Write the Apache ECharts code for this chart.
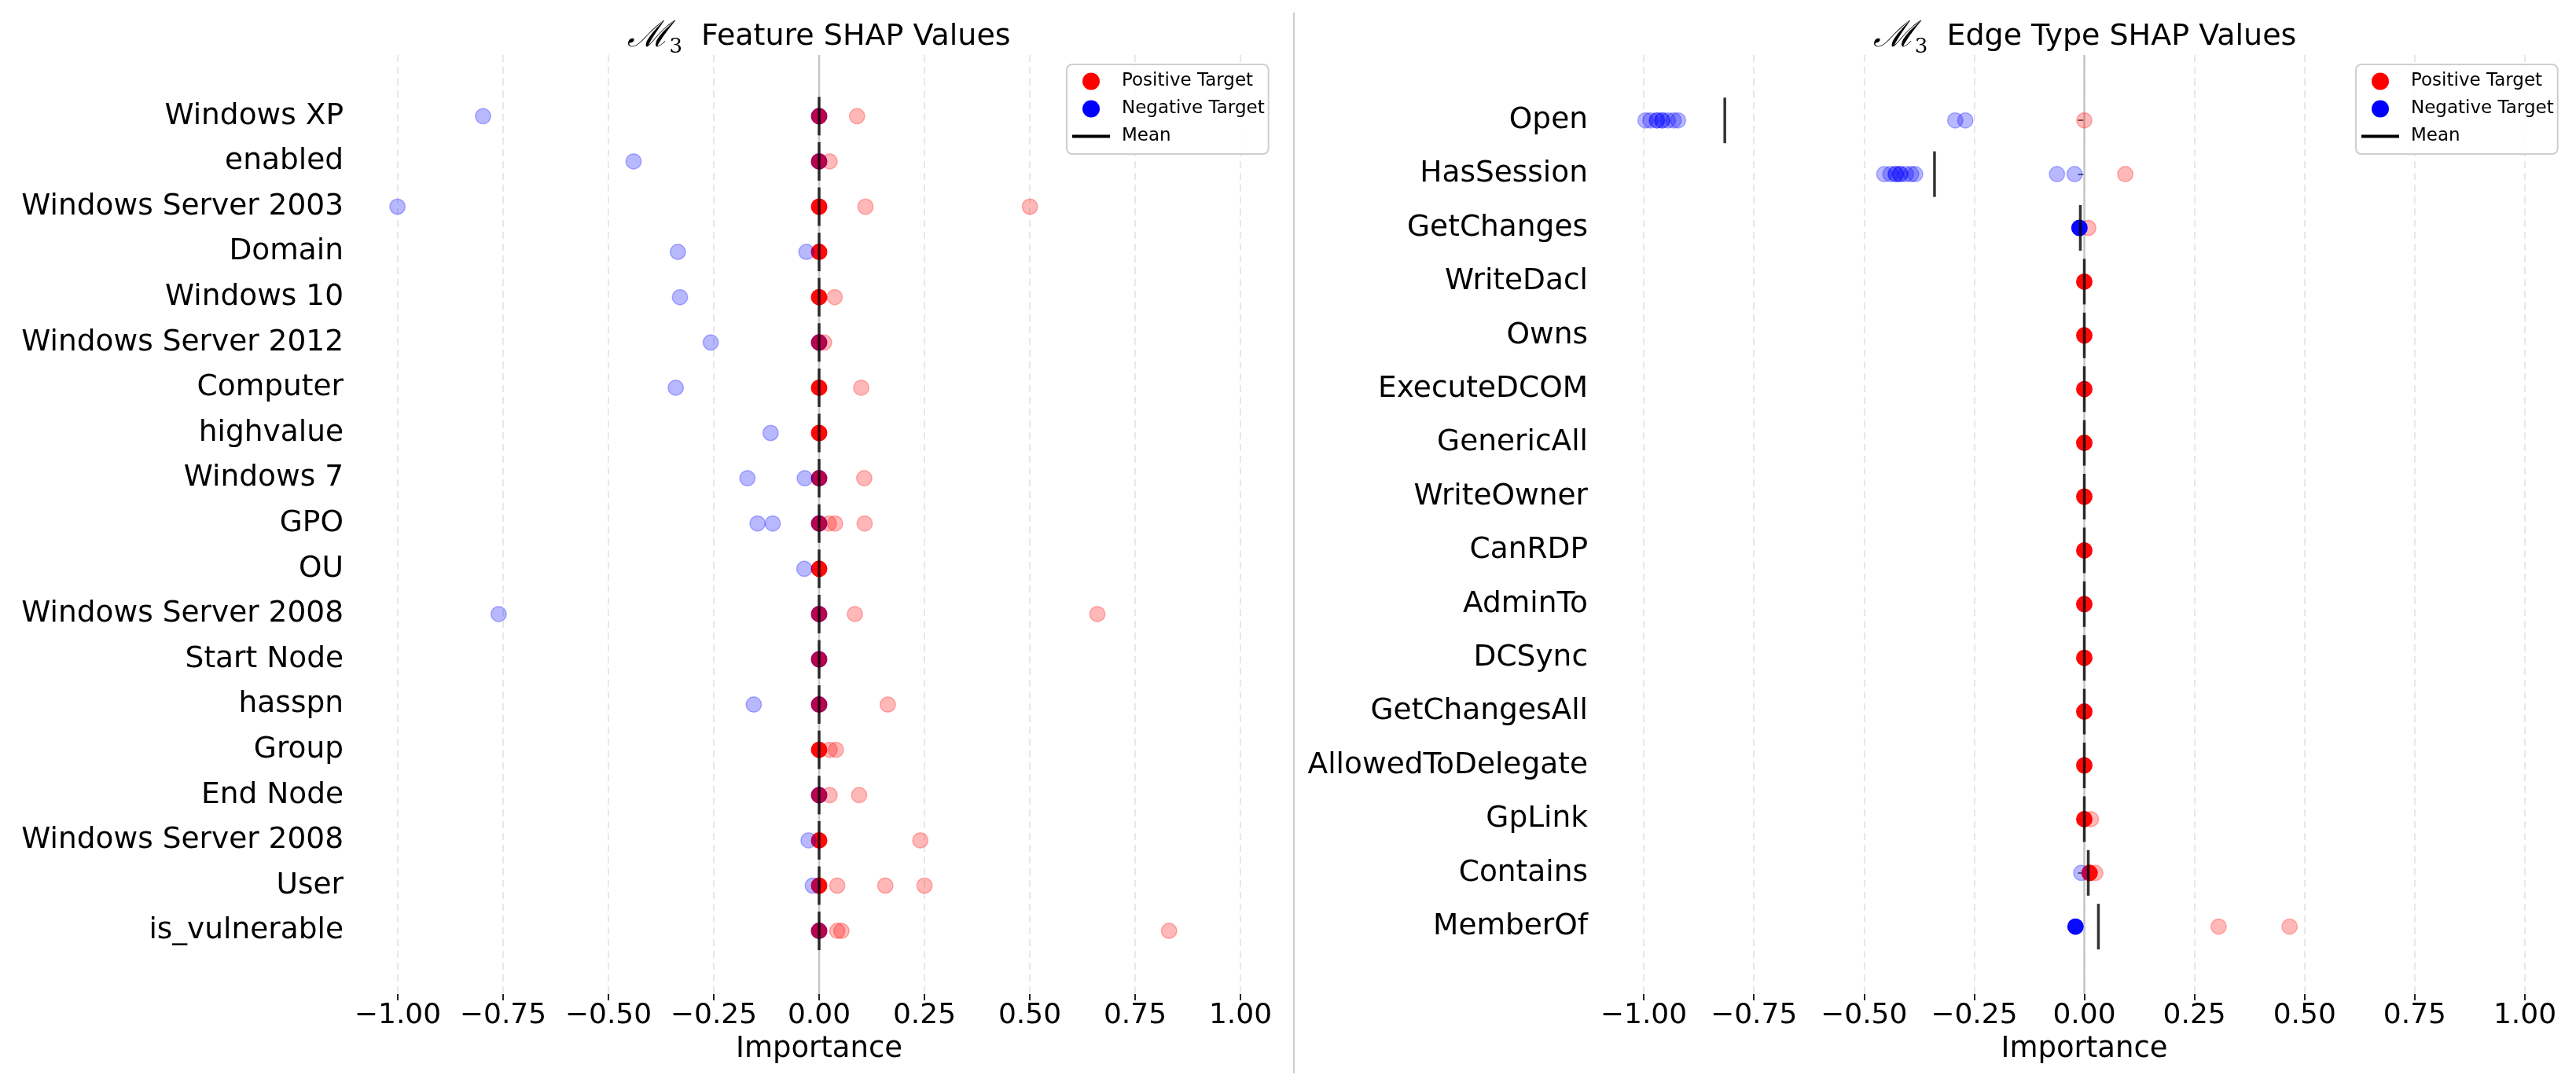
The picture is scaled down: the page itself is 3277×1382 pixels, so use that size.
<!doctype html>
<html>
<head>
<meta charset="utf-8">
<title>M3 SHAP values</title>
<script src="https://cdn.jsdelivr.net/npm/echarts@6/dist/echarts.min.js"></script>
<style>
html, body { margin: 0; padding: 0; background: #fff; }
#main { width: 3277px; height: 1382px; }
</style>
</head>
<body>
<div id="main"></div>
<script>
// categories, top to bottom
var featureNames = ['Windows XP', 'enabled', 'Windows Server 2003', 'Domain', 'Windows 10',
    'Windows Server 2012', 'Computer', 'highvalue', 'Windows 7', 'GPO', 'OU',
    'Windows Server 2008', 'Start Node', 'hasspn', 'Group', 'End Node',
    'Windows Server 2008', 'User', 'is_vulnerable'];
var edgeNames = ['Open', 'HasSession', 'GetChanges', 'WriteDacl', 'Owns', 'ExecuteDCOM',
    'GenericAll', 'WriteOwner', 'CanRDP', 'AdminTo', 'DCSync', 'GetChangesAll',
    'AllowedToDelegate', 'GpLink', 'Contains', 'MemberOf'];

// points: [row, shap value, how many points sit on top of each other]
var featurePos = [
    [0, 0, 10], [0, 0.09, 1],
    [1, 0, 10], [1, 0.025, 1],
    [2, 0, 10], [2, 0.11, 1], [2, 0.50, 1],
    [3, 0, 10],
    [4, 0, 10], [4, 0.037, 1],
    [5, 0, 10], [5, 0.012, 1],
    [6, 0, 10], [6, 0.10, 1],
    [7, 0, 10],
    [8, 0, 10], [8, 0.107, 1],
    [9, 0, 10], [9, 0.023, 1], [9, 0.038, 1], [9, 0.108, 1],
    [10, 0, 10],
    [11, 0, 10], [11, 0.085, 1], [11, 0.66, 1],
    [12, 0, 10],
    [13, 0, 10], [13, 0.163, 1],
    [14, 0, 10], [14, 0.025, 1], [14, 0.04, 1],
    [15, 0, 10], [15, 0.025, 1], [15, 0.095, 1],
    [16, 0, 10], [16, 0.24, 1],
    [17, 0, 10], [17, 0.043, 1], [17, 0.157, 1], [17, 0.25, 1],
    [18, 0, 10], [18, 0.043, 1], [18, 0.053, 1], [18, 0.83, 1]
];
var featureNeg = [
    [0, -0.797, 1], [0, 0, 1],
    [1, -0.44, 1], [1, 0, 1],
    [2, -1.0, 1],
    [3, -0.335, 1], [3, -0.03, 1],
    [4, -0.33, 1],
    [5, -0.257, 1], [5, 0, 1],
    [6, -0.34, 1],
    [7, -0.115, 1],
    [8, -0.17, 1], [8, -0.034, 1], [8, 0, 1],
    [9, -0.146, 1], [9, -0.11, 1], [9, 0, 1],
    [10, -0.035, 1],
    [11, -0.76, 1], [11, 0, 1],
    [12, 0, 1],
    [13, -0.155, 1], [13, 0, 1],
    [15, 0, 1],
    [16, -0.025, 1],
    [17, -0.015, 1],
    [18, 0, 1]
];
var featureMean = [0, 0, 0, 0, 0, 0, 0, 0, 0, 0, 0, 0, 0, 0, 0, 0, 0, 0, 0];

var edgePos = [
    [0, 0, 1],
    [1, 0.093, 1],
    [2, 0.009, 1],
    [3, 0, 10], [4, 0, 10], [5, 0, 10], [6, 0, 10], [7, 0, 10],
    [8, 0, 10], [9, 0, 10], [10, 0, 10], [11, 0, 10], [12, 0, 10],
    [13, 0, 10], [13, 0.015, 1],
    [14, 0.012, 10], [14, 0.025, 1],
    [15, 0.305, 1], [15, 0.466, 1]
];
var edgeNeg = [
    [0, -0.996, 1], [0, -0.985, 1], [0, -0.97, 2], [0, -0.958, 2], [0, -0.945, 1],
    [0, -0.932, 1], [0, -0.922, 1], [0, -0.293, 1], [0, -0.27, 1],
    [1, -0.454, 1], [1, -0.44, 1], [1, -0.428, 2], [1, -0.418, 2], [1, -0.405, 1],
    [1, -0.393, 1], [1, -0.384, 1], [1, -0.062, 1], [1, -0.022, 1],
    [2, -0.011, 10],
    [14, -0.007, 1],
    [15, -0.02, 10]
];
var edgeMean = [-0.816, -0.34, -0.009, 0, 0, 0, 0, 0, 0, 0, 0, 0, 0, 0, 0.009, 0.032];

var xTicks = [-1, 1, 0.25];   // min, max, step of the shown ticks
var xRange = [-1.1, 1.1];     // full plotting range

var ALPHA = 0.28;

function pts(list) {
    return list.map(function (p) {
        return { value: [p[1], p[0]], itemStyle: { opacity: 1 - Math.pow(1 - ALPHA, p[2]) } };
    });
}
function means(list) {
    return list.map(function (m, i) { return [m, i]; });
}
function tickFmt(v) {
    return (v < 0 ? '\u2212' : '') + Math.abs(v).toFixed(2);
}

var chart = echarts.init(document.getElementById('main'), null, { renderer: 'canvas' });

var panels = [
    { names: featureNames, pos: featurePos, neg: featureNeg, mean: featureMean,
      catGrid: { left: 452, top: 119, width: 1180, height: 1094.4 },
      decoGrid: { left: 506, top: 70, width: 1072, height: 1195 },
      meanLen: 49, legendLeft: 1357, title: 'Feature SHAP Values', cx: 1042 },
    { names: edgeNames, pos: edgePos, neg: edgeNeg, mean: edgeMean,
      catGrid: { left: 2035, top: 119, width: 1233, height: 1094.4 },
      decoGrid: { left: 2091, top: 70, width: 1121, height: 1195 },
      meanLen: 58, legendLeft: 2997, title: 'Edge Type SHAP Values', cx: 2652 }
];

var grid = [], xAxis = [], yAxis = [], series = [], legend = [], graphic = [];

panels.forEach(function (p, k) {
    var gc = 2 * k, gd = 2 * k + 1;
    grid.push(p.catGrid, p.decoGrid);

    xAxis.push({
        gridIndex: gc, type: 'value', min: xRange[0], max: xRange[1], show: false
    });
    xAxis.push({
        gridIndex: gd, type: 'value', min: xTicks[0], max: xTicks[1], interval: xTicks[2],
        name: 'Importance', nameLocation: 'middle', nameGap: 52,
        nameTextStyle: { fontSize: 37, color: '#000' },
        axisLine: { show: false },
        axisTick: { show: true, length: 8, lineStyle: { color: '#222', width: 2 } },
        axisLabel: { fontSize: 36, color: '#000', margin: 10, formatter: tickFmt },
        splitLine: { show: true, lineStyle: { color: '#e8e8e8', width: 2, type: [9, 6] } }
    });

    yAxis.push({
        gridIndex: gc, type: 'category', data: p.names, inverse: true, boundaryGap: true,
        axisLine: { show: false },
        axisTick: { show: true, alignWithLabel: true, length: 8, lineStyle: { color: '#333', width: 1.5 } },
        axisLabel: { fontSize: 37.5, color: '#000', margin: 15, interval: 0 },
        splitLine: { show: false }
    });
    yAxis.push({
        gridIndex: gd, type: 'value', min: 0, max: 1, show: false
    });

    // light reference line at zero
    series.push({
        type: 'line', xAxisIndex: gd, yAxisIndex: gd, data: [[0, 0], [0, 1]],
        symbol: 'none', silent: true, z: 1,
        lineStyle: { color: '#c6c6c6', width: 2.5 }
    });
    series.push({
        name: 'Positive Target', type: 'scatter', xAxisIndex: gc, yAxisIndex: gc,
        data: pts(p.pos), symbolSize: 19.5, z: 2,
        itemStyle: { color: 'red', borderColor: 'red', borderWidth: 1.5 }
    });
    series.push({
        name: 'Negative Target', type: 'scatter', xAxisIndex: gc, yAxisIndex: gc,
        data: pts(p.neg), symbolSize: 19.5, z: 3,
        itemStyle: { color: 'blue', borderColor: 'blue', borderWidth: 1.5 }
    });
    series.push({
        name: 'Mean', type: 'scatter', xAxisIndex: gc, yAxisIndex: gc,
        data: means(p.mean), symbol: 'rect', symbolSize: [3.5, p.meanLen], z: 4,
        itemStyle: { color: '#000' }
    });

    legend.push({
        left: p.legendLeft, top: 82, orient: 'vertical',
        padding: [10, 5, 11, 7], itemWidth: 48, itemHeight: 22, itemGap: 12,
        backgroundColor: 'rgba(255,255,255,0.85)', borderColor: '#cfcfcf',
        borderWidth: 2, borderRadius: 7,
        textStyle: { fontSize: 23, color: '#000', padding: [0, 0, 0, 10] },
        data: [
            { name: 'Positive Target', icon: 'circle', itemStyle: { color: 'red', opacity: 1, borderWidth: 0 } },
            { name: 'Negative Target', icon: 'circle', itemStyle: { color: 'blue', opacity: 1, borderWidth: 0 } },
            { name: 'Mean', icon: 'path://M0,0H48V4H0Z', itemStyle: { color: '#000', opacity: 1 } }
        ]
    });

    graphic.push({
        type: 'text', x: p.cx, y: 47, z: 10,
        style: {
            text: '{m|\u2133}{s|3}{t|  ' + p.title + '}',
            align: 'center', verticalAlign: 'middle', fill: '#000',
            rich: {
                m: { fontFamily: 'DejaVu Serif', fontStyle: 'italic', fontSize: 46, lineHeight: 52 },
                s: { fontFamily: 'DejaVu Serif', fontSize: 26, lineHeight: 52, verticalAlign: 'bottom' },
                t: { fontFamily: 'DejaVu Sans', fontSize: 38, lineHeight: 52 }
            }
        }
    });
});

// thin divider between the two panels
graphic.push({
    type: 'line', shape: { x1: 1646, y1: 16, x2: 1646, y2: 1366 },
    style: { stroke: '#cccccc', lineWidth: 2 }, silent: true
});

var option = {
    animation: false,
    backgroundColor: '#fff',
    textStyle: { fontFamily: 'DejaVu Sans' },
    grid: grid,
    xAxis: xAxis,
    yAxis: yAxis,
    legend: legend,
    graphic: graphic,
    series: series
};

chart.setOption(option);
</script>
</body>
</html>
